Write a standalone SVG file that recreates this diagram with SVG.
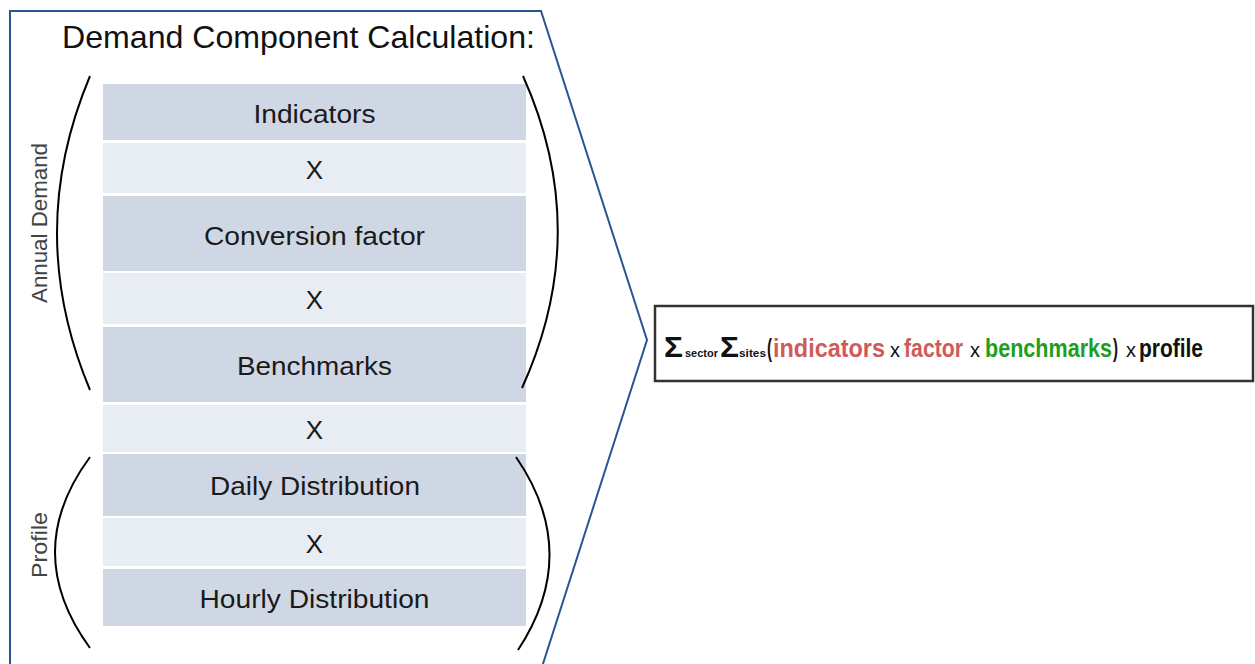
<svg xmlns="http://www.w3.org/2000/svg" width="1255" height="664" viewBox="0 0 1255 664">
<style>
.dark{fill:#cfd7e5}
.light{fill:#e8edf4}
.lbl{font-family:"Liberation Sans",Arial,sans-serif;font-size:26px;fill:#1a1a1a;text-anchor:middle}
.side{font-family:"Liberation Sans",Arial,sans-serif;font-size:22px;fill:#444;text-anchor:middle}
.br{fill:none;stroke:#000;stroke-width:2}
.f{font-family:"Liberation Sans",Arial,sans-serif;font-weight:bold;font-size:25px;fill:#111}
.red{fill:#d05a5a}
.grn{fill:#1e9e1e}
.sm{font-size:11px}
.sig{font-size:30px}
.mul{font-size:21px;font-weight:normal}
</style>
<rect width="1255" height="664" fill="#fff"/>
<g id="outline">
<path d="M10 670 L10 11 L541 11 L647 340 L541 670" fill="none" stroke="#2a5592" stroke-width="2"/>
</g>
<g id="title">
<text x="62" y="48" font-family="'Liberation Sans',Arial,sans-serif" font-size="32" fill="#111" textLength="473" lengthAdjust="spacingAndGlyphs">Demand Component Calculation:</text>
</g>
<g id="row-indicators"><rect class="dark" x="103" y="84" width="423" height="56"/><text class="lbl" x="314.5" y="123" textLength="122" lengthAdjust="spacingAndGlyphs">Indicators</text></g>
<g id="row-x1"><rect class="light" x="103" y="143" width="423" height="50"/><text class="lbl" x="314.5" y="179">X</text></g>
<g id="row-conversion"><rect class="dark" x="103" y="196" width="423" height="75"/><text class="lbl" x="314.5" y="245" textLength="221" lengthAdjust="spacingAndGlyphs">Conversion factor</text></g>
<g id="row-x2"><rect class="light" x="103" y="273" width="423" height="51"/><text class="lbl" x="314.5" y="309">X</text></g>
<g id="row-benchmarks"><rect class="dark" x="103" y="327" width="423" height="75"/><text class="lbl" x="314.5" y="375" textLength="155" lengthAdjust="spacingAndGlyphs">Benchmarks</text></g>
<g id="row-x3"><rect class="light" x="103" y="405" width="423" height="47"/><text class="lbl" x="314.5" y="439">X</text></g>
<g id="row-daily"><rect class="dark" x="103" y="454" width="423" height="62"/><text class="lbl" x="315" y="495" textLength="210" lengthAdjust="spacingAndGlyphs">Daily Distribution</text></g>
<g id="row-x4"><rect class="light" x="103" y="518" width="423" height="48"/><text class="lbl" x="314.5" y="553">X</text></g>
<g id="row-hourly"><rect class="dark" x="103" y="569" width="423" height="57"/><text class="lbl" x="314.5" y="608" textLength="230" lengthAdjust="spacingAndGlyphs">Hourly Distribution</text></g>
<g id="annual-bracket">
<path class="br" d="M90 76 Q24 233 90 390"/>
<path class="br" d="M523 76 Q593 232 522 388"/>
<text class="side" transform="translate(47 223) rotate(-90)" x="0" y="0" textLength="160" lengthAdjust="spacingAndGlyphs">Annual Demand</text>
</g>
<g id="profile-bracket">
<path class="br" d="M90 457 Q20 552 90 648"/>
<path class="br" d="M516 457 Q582 553 518 650"/>
<text class="side" transform="translate(47 545) rotate(-90)" x="0" y="0" textLength="66" lengthAdjust="spacingAndGlyphs">Profile</text>
</g>
<g id="formula">
<rect x="655" y="306" width="598" height="75" fill="#fff" stroke="#333" stroke-width="2.5"/>
<text class="f" y="357"><tspan class="sig" x="664" y="357" textLength="19" lengthAdjust="spacingAndGlyphs">Σ</tspan><tspan class="sm" x="685" y="357" textLength="33" lengthAdjust="spacingAndGlyphs">sector</tspan><tspan class="sig" x="720" y="357" textLength="19" lengthAdjust="spacingAndGlyphs">Σ</tspan><tspan class="sm" x="739" y="357" textLength="27" lengthAdjust="spacingAndGlyphs">sites</tspan><tspan x="767" y="357" textLength="5" lengthAdjust="spacingAndGlyphs">(</tspan><tspan class="red" x="773" y="357" textLength="112" lengthAdjust="spacingAndGlyphs">indicators</tspan><tspan class="mul" x="890" y="357" textLength="10" lengthAdjust="spacingAndGlyphs">x</tspan><tspan class="red" x="904" y="357" textLength="59" lengthAdjust="spacingAndGlyphs">factor</tspan><tspan class="mul" x="970" y="357" textLength="10" lengthAdjust="spacingAndGlyphs">x</tspan><tspan class="grn" x="985" y="357" textLength="127" lengthAdjust="spacingAndGlyphs">benchmarks</tspan><tspan x="1113" y="357" textLength="5" lengthAdjust="spacingAndGlyphs">)</tspan><tspan class="mul" x="1126" y="357" textLength="10" lengthAdjust="spacingAndGlyphs">x</tspan><tspan x="1139" y="357" textLength="64" lengthAdjust="spacingAndGlyphs">profile</tspan></text>
</g>
</svg>
